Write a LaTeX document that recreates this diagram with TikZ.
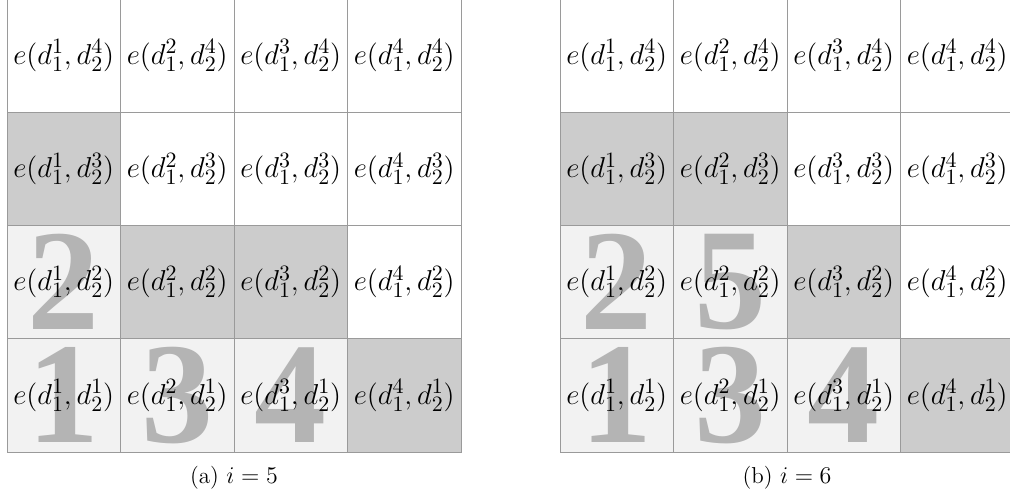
\documentclass[tikz,border=0pt]{standalone}
\usepackage{fontspec}
\newfontfamily\digitfont{Liberation Serif}
\definecolor{dk}{HTML}{CCCCCC}
\definecolor{lt}{HTML}{F2F2F2}
\definecolor{gridgray}{HTML}{9A9A9A}
\definecolor{diggray}{HTML}{B4B4B4}
\begin{document}
\begin{tikzpicture}[x=0.5pt,y=-0.5pt,
  cell/.style={draw=gridgray, line width=0.5pt, minimum width=56.75pt, minimum height=56.625pt, inner sep=0pt, outer sep=0pt},
  digit/.style={text=diggray, font=\digitfont\bfseries\fontsize{72}{72}\selectfont, inner sep=0pt},
  lbl/.style={font=\fontsize{15.2}{18}\selectfont, inner sep=0pt},
  captext/.style={font=\fontsize{11.5}{13}\selectfont, inner sep=0pt}]
\useasboundingbox (0,0) rectangle (1010,497);
% left grid (a)
\foreach \c/\j/\f in {1/1/lt,1/2/lt,1/3/dk,1/4/white,
                      2/1/lt,2/2/dk,2/3/white,2/4/white,
                      3/1/lt,3/2/dk,3/3/white,3/4/white,
                      4/1/dk,4/2/white,4/3/white,4/4/white}
  \node[cell, fill=\f] (a\c\j) at ({7+113.5*(\c-0.5)}, {-1+113.25*(4-\j+0.5)}) {};
% right grid (b)
\foreach \c/\j/\f in {1/1/lt,1/2/lt,1/3/dk,1/4/white,
                      2/1/lt,2/2/lt,2/3/dk,2/4/white,
                      3/1/lt,3/2/dk,3/3/white,3/4/white,
                      4/1/dk,4/2/white,4/3/white,4/4/white}
  \node[cell, fill=\f] (b\c\j) at ({560+113.5*(\c-0.5)}, {-1+113.25*(4-\j+0.5)}) {};
% order digits
\node[digit] (an1) at (a11) {1};
\node[digit] (an2) at (a12) {2};
\node[digit] (an3) at (a21) {3};
\node[digit] (an4) at (a31) {4};
\node[digit] (bn1) at (b11) {1};
\node[digit] (bn2) at (b12) {2};
\node[digit] (bn3) at (b21) {3};
\node[digit] (bn4) at (b31) {4};
\node[digit] (bn5) at (b22) {5};
% labels
\foreach \g in {a,b}
  \foreach \c in {1,...,4}
    \foreach \j in {1,...,4}
      \node[lbl] (\g l\c\j) at (\g\c\j) {$e(d_1^{\c},d_2^{\j})$};
% captions
\node[captext] (capa) at (234,478) {(a) $i=5$};
\node[captext] (capb) at (787,478) {(b) $i=6$};
\end{tikzpicture}
\end{document}
